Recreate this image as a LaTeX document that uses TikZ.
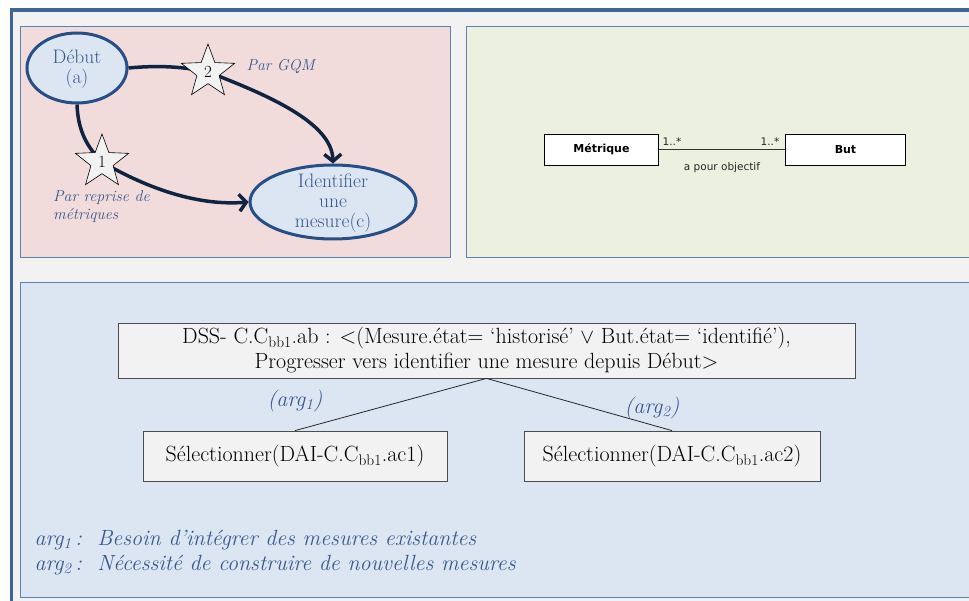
\documentclass[tikz,border=0pt]{standalone}
\usepackage{fontspec}
\newfontfamily\umlfont{DejaVu Sans}
\usetikzlibrary{positioning,calc,arrows.meta,shapes.geometric}
\definecolor{FrameBlue}{RGB}{63,100,150}
\definecolor{PanelLine}{RGB}{95,128,176}
\definecolor{PinkBg}{RGB}{242,220,219}
\definecolor{GreenBg}{RGB}{235,241,222}
\definecolor{BlueBg}{RGB}{220,230,242}
\definecolor{PageGray}{RGB}{242,242,242}
\definecolor{InkBlue}{RGB}{55,88,145}
\definecolor{NavyArrow}{RGB}{16,36,66}
\definecolor{EllBorder}{RGB}{38,78,135}
\tikzset{
	panel/.style={draw=PanelLine,line width=0.8pt},
	etat/.style={ellipse,draw=EllBorder,fill=BlueBg,line width=3pt,inner sep=0pt},
	etattxt/.style={text=InkBlue,align=center,font=\fontsize{19.5}{20}\selectfont},
	jalon/.style={star,star points=5,star point ratio=2.4,draw=black,fill=PageGray,line width=0.6pt,
		minimum size=56pt,inner sep=0pt,font=\fontsize{17}{17}\selectfont},
	fleche/.style={draw=NavyArrow,line width=3.5pt,-{Straight Barb[length=7pt,width=17pt]}},
	note/.style={text=InkBlue,font=\itshape\fontsize{15.8}{18}\selectfont,align=left},
	classe/.style={draw=black,fill=white,line width=0.9pt,minimum height=31pt,
		font=\umlfont\bfseries\fontsize{11}{13}\selectfont},
	uml/.style={font=\umlfont\fontsize{10.5}{12}\selectfont,text=black!85},
	boite/.style={draw=black!70,fill=PageGray,line width=0.8pt,align=center,font=\fontsize{22}{25}\selectfont},
	arg/.style={text=InkBlue,font=\itshape\fontsize{22}{25}\selectfont},
}

\begin{document}
\begin{tikzpicture}[x=1pt,y=-1pt]
	\useasboundingbox (0,0) rectangle (969,601);
	\clip (0,0) rectangle (969,601);
	\fill[white] (0,0) rectangle (969,601);
	% cadre general
	\draw[draw=FrameBlue,line width=3.5pt,fill=PageGray] (11.5,10) rectangle (1000,640);
	\draw[panel,fill=PinkBg] (20,26) rectangle (450,257);
	\draw[panel,fill=GreenBg] (466,26) rectangle (990,257);
	\draw[panel,fill=BlueBg] (20,282) rectangle (990,597);

	% carte
	\begin{scope}
		\node[etat,minimum width=100pt,minimum height=70pt] (debut) at (77,68) {};
		\node[etattxt] at (77,69) {D\'ebut\\(a)};
		\node[etat,minimum width=166pt,minimum height=74pt] (ident) at (333,202) {};
		\node[etattxt] at (333,203) {Identifier\\une\\mesure(c)};
		\coordinate (s1) at (102,162);
		\coordinate (s2) at (208,72);
		\draw[fleche] (debut.east) .. controls (160,65) and (185,67) .. (s2)
			.. controls (265,94) and (332,122) .. (ident.north);
		\draw[fleche] (debut.south) .. controls (78,132) and (88,148) .. (s1)
			.. controls (150,190) and (200,206) .. (ident.west);
		\node[jalon] (j1) at (s1) {1};
		\node[jalon] (j2) at (s2) {2};
		\node[note,anchor=west] (gqm) at (243,66) {Par GQM};
		\node[note,anchor=north west,inner sep=0pt] (reprise) at (53,190) {Par reprise de\\m\'etriques};
	\end{scope}

	% diagramme de classes
	\begin{scope}
		\node[classe,minimum width=114pt] (metrique) at (601.5,149.5) {M\'etrique};
		\node[classe,minimum width=120pt] (but) at (845.5,149.5) {But};
		\draw[line width=0.9pt,black!80] (metrique.east) -- (but.west);
		\node[uml] (m1) at (672,142) {1..*};
		\node[uml] (m2) at (770,142) {1..*};
		\node[uml] (assoc) at (722,168) {a pour objectif};
	\end{scope}

	% arbre de strategie
	\begin{scope}
		\node[boite,minimum width=737pt,minimum height=55pt] (dss) at (486.5,350.5)
			{DSS- C.C\textsubscript{bb1}.ab : <(Mesure.\'etat= ‘historis\'e’ $\vee$ But.\'etat= ‘identifi\'e’),\\
			Progresser vers identifier une mesure depuis D\'ebut>};
		\node[boite,minimum width=304pt,minimum height=50pt] (sel1) at (295,456)
			{S\'electionner(DAI-C.C\textsubscript{bb1}.ac1)};
		\node[boite,minimum width=296pt,minimum height=50pt] (sel2) at (672,456)
			{S\'electionner(DAI-C.C\textsubscript{bb1}.ac2)};
		\draw[black!85,line width=0.8pt] (dss.south) -- (sel1.north);
		\draw[black!85,line width=0.8pt] (dss.south) -- (sel2.north);
		\node[arg] (a1) at (295,401) {(arg\textsubscript{1})};
		\node[arg] (a2) at (652,408) {(arg\textsubscript{2})};
		\node[arg,anchor=west] (leg1) at (31,540) {arg\textsubscript{1}\,:\ \ Besoin d’int\'egrer des mesures existantes};
		\node[arg,anchor=west] (leg2) at (31,565) {arg\textsubscript{2}\,:\ \ N\'ecessit\'e de construire de nouvelles mesures};
	\end{scope}
\end{tikzpicture}
\end{document}
